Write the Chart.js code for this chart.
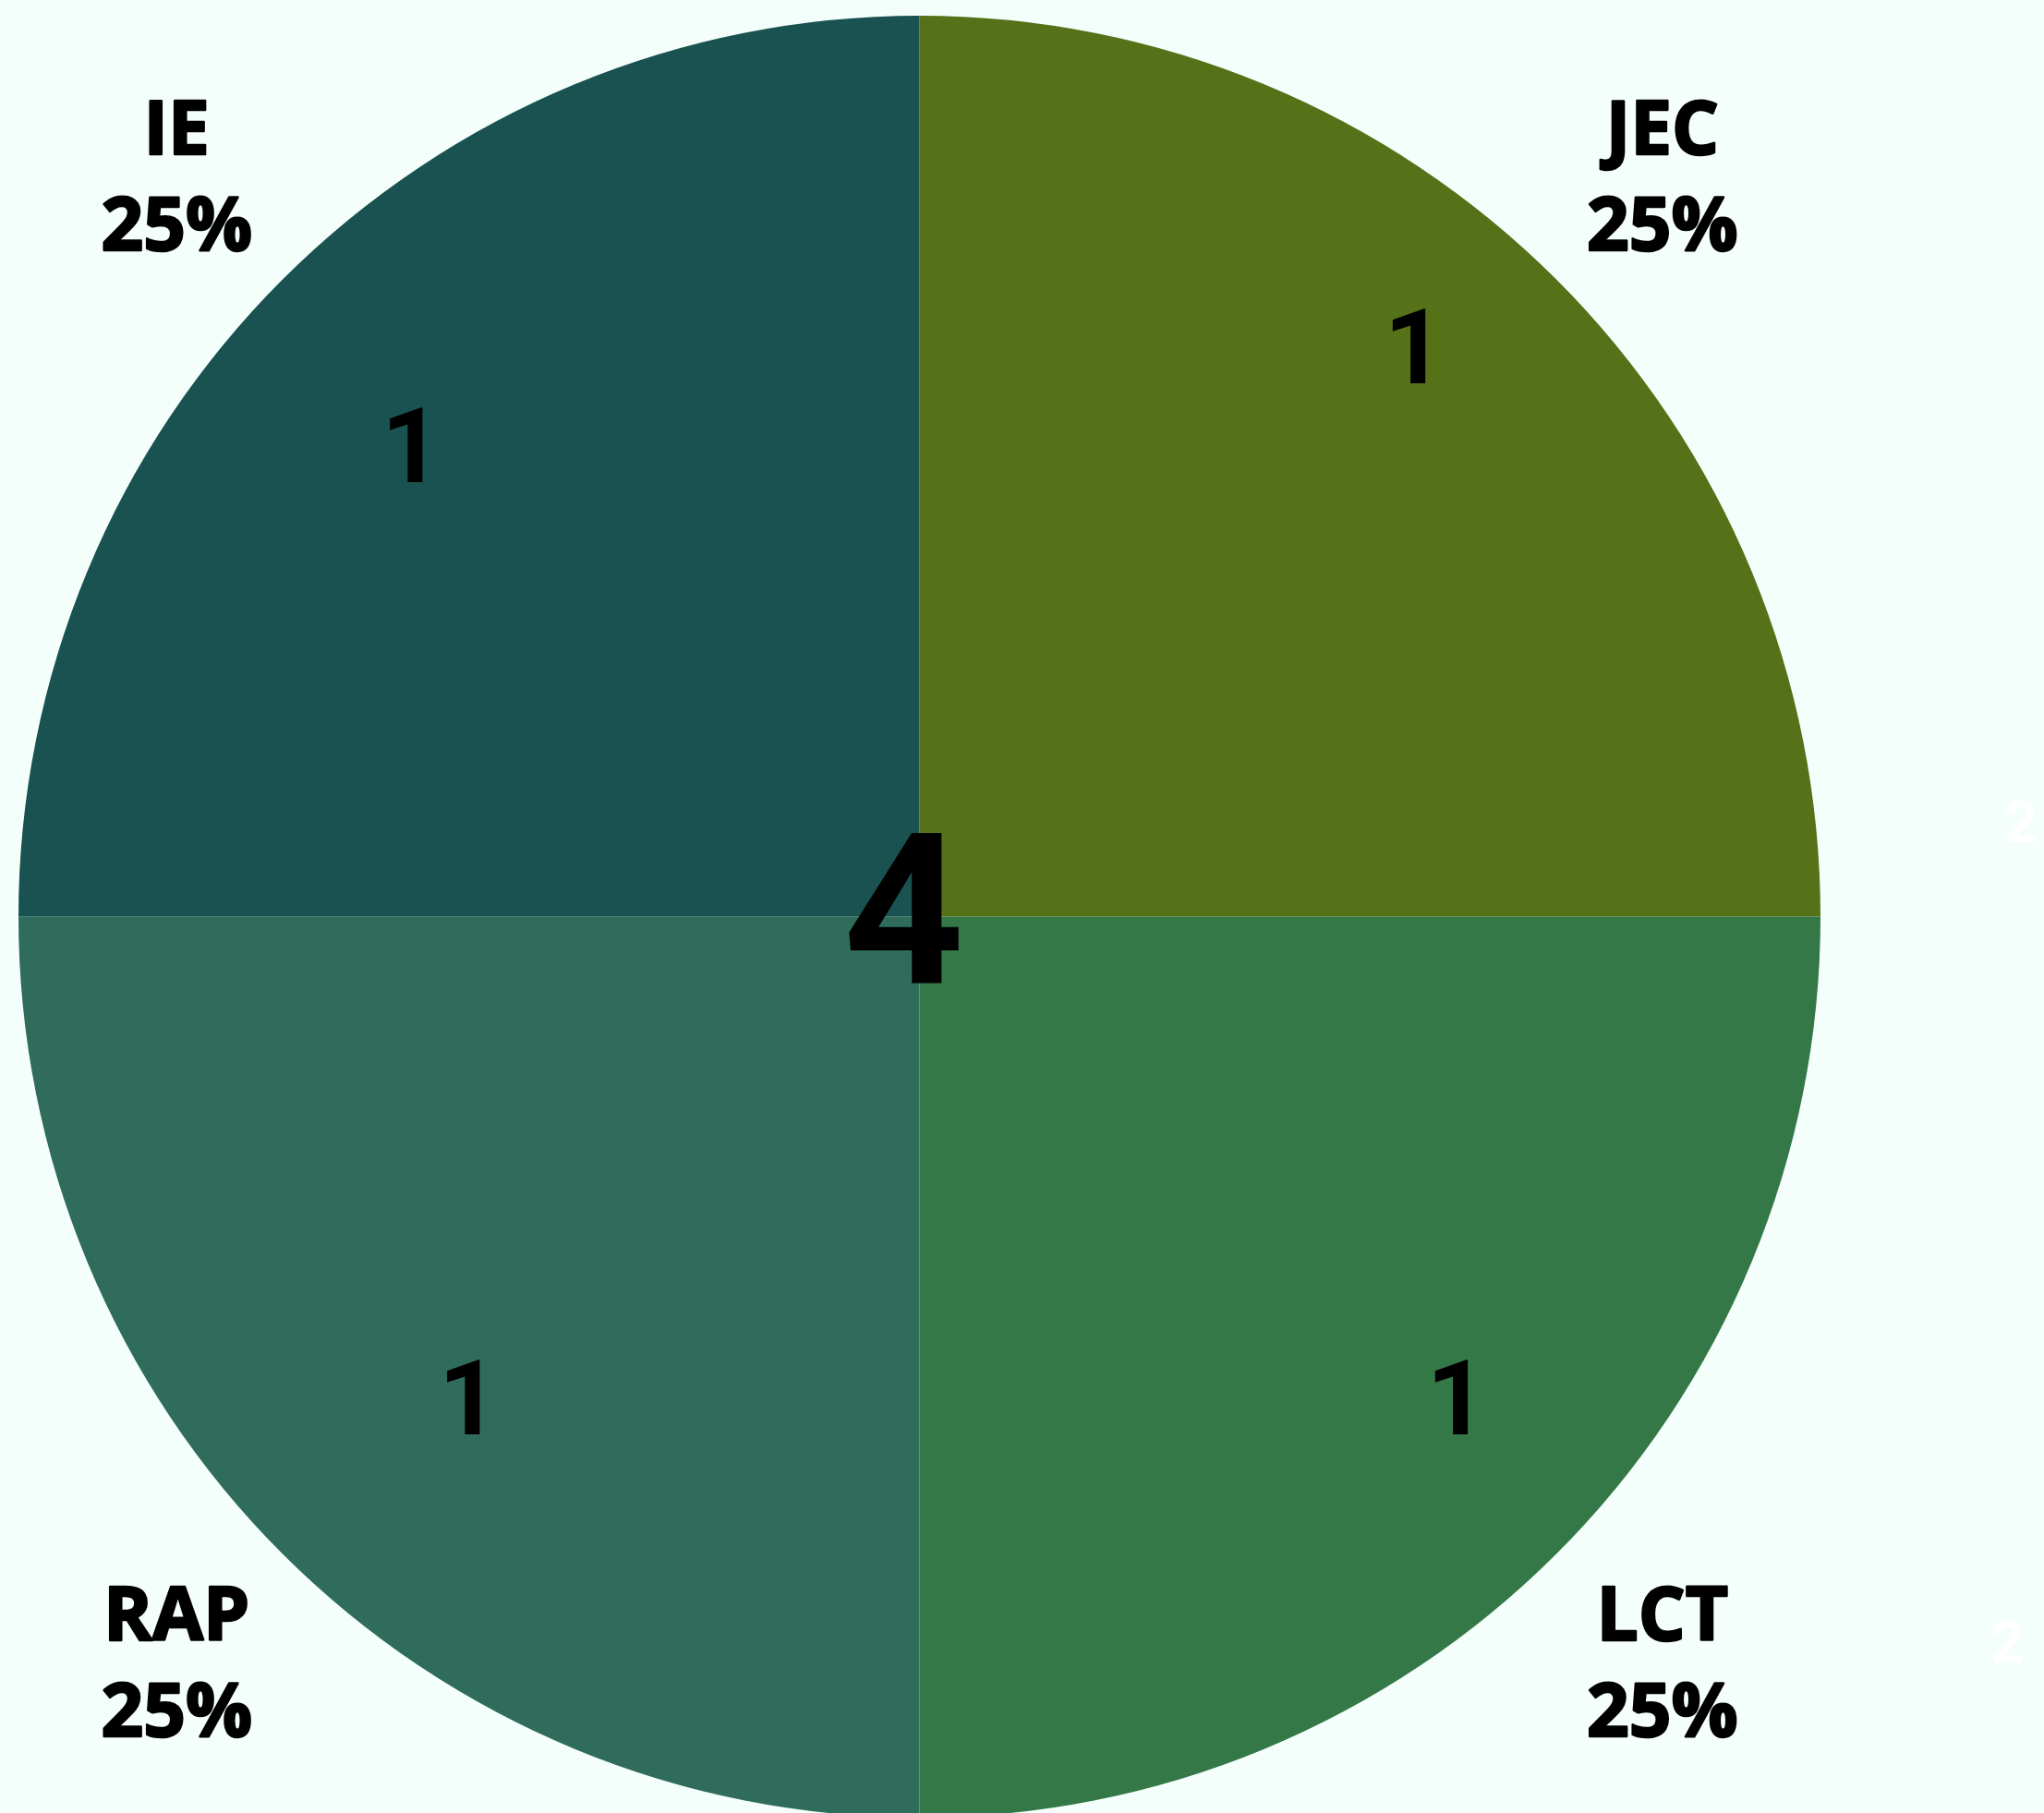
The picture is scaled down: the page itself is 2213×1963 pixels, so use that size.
<!DOCTYPE html>
<html>
<head>
    <title>Share by group</title>
    <script src="https://cdn.jsdelivr.net/npm/chart.js"></script>
    <style>
        html, body { margin: 0; padding: 0; overflow: hidden; background: #f4fffb; }
        #wrap { width: 2213px; height: 1980px; position: relative; }
    </style>
</head>
<body>
    <div id="wrap">
        <canvas id="pieChart"></canvas>
    </div>

    <script>
        // chart data
        var categories = ['JEC', 'LCT', 'RAP', 'IE'];
        var counts = [1, 1, 1, 1];
        var sideNotes = ['2', '2'];

        var sliceColors = ['#557219', '#357848', '#306c5c', '#195250'];

        // where the count inside each slice sits: angle shift (deg) and radius fraction
        var countSpots = [
            { shift: -4.3, r: 0.836 },
            { shift: -3.0, r: 0.797 },
            { shift: -1.6, r: 0.734 },
            { shift: -2.3, r: 0.773 }
        ];

        var numFont = 'Roboto';

        // draws text with the baseline placed so the caps sit centred on y
        function capText(ctx, txt, x, y, size) {
            ctx.fillText(txt, x, y + size * 0.355);
        }

        var labelPlugin = {
            id: 'pieLabels',
            afterDatasetsDraw: function (chart) {
                var ctx = chart.ctx;
                var meta = chart.getDatasetMeta(0);
                var data = chart.data.datasets[0].data;
                var total = data.reduce(function (a, b) { return a + b; }, 0);

                ctx.save();
                ctx.textAlign = 'center';

                meta.data.forEach(function (arc, i) {
                    var p = arc.getProps(['x', 'y', 'startAngle', 'endAngle', 'outerRadius'], true);
                    var mid = (p.startAngle + p.endAngle) / 2;

                    // outside label: name + percentage
                    var d = p.outerRadius * 1.166;
                    var lx = p.x + Math.cos(mid) * d;
                    var ly = p.y + Math.sin(mid) * d;
                    ctx.textBaseline = 'middle';
                    ctx.fillStyle = '#000';
                    ctx.strokeStyle = '#000';
                    ctx.lineWidth = 2.5;
                    ctx.lineJoin = 'round';
                    ctx.font = 'bold 80px "Open Sans"';
                    var pct = Math.round(data[i] / total * 100) + '%';
                    ctx.strokeText(chart.data.labels[i], lx, ly - 44);
                    ctx.fillText(chart.data.labels[i], lx, ly - 44);
                    ctx.strokeText(pct, lx, ly + 60);
                    ctx.fillText(pct, lx, ly + 60);

                    // count inside the slice
                    var s = countSpots[i];
                    var a = mid + s.shift * Math.PI / 180;
                    var cx = p.x + Math.cos(a) * p.outerRadius * s.r;
                    var cy = p.y + Math.sin(a) * p.outerRadius * s.r;
                    ctx.textBaseline = 'alphabetic';
                    ctx.font = 'bold 114px ' + numFont;
                    capText(ctx, String(data[i]), cx + 4, cy, 114);
                });

                // total in the middle
                var c = meta.data[0];
                ctx.textBaseline = 'alphabetic';
                ctx.font = 'bold 228px ' + numFont;
                ctx.fillText(String(total), c.x - 17, c.y + 72);

                // faint white notes at the right edge
                ctx.fillStyle = '#ffffff';
                ctx.font = 'bold 63px ' + numFont;
                capText(ctx, sideNotes[0], chart.width - 25, c.y - 103, 63);
                capText(ctx, sideNotes[1], chart.width - 40, c.y + 785, 63);
                ctx.restore();
            }
        };

        function draw() {
            var ctx = document.getElementById('pieChart').getContext('2d');
            var myChart = new Chart(ctx, {
                type: 'pie',
                data: {
                    labels: categories,
                    datasets: [{
                        data: counts,
                        backgroundColor: sliceColors,
                        borderWidth: 0,
                        offset: 0,
                        hoverOffset: 0
                    }]
                },
                options: {
                    responsive: true,
                    maintainAspectRatio: false,
                    animation: false,
                    layout: { padding: { left: 20, right: 242, top: 17, bottom: 12 } },
                    plugins: {
                        legend: { display: false },
                        tooltip: { enabled: false }
                    }
                },
                plugins: [labelPlugin]
            });
        }

        Promise.all([
            document.fonts.load('bold 80px "Open Sans"'),
            document.fonts.load('bold 114px Roboto')
        ]).then(draw, draw);
    </script>
</body>
</html>
